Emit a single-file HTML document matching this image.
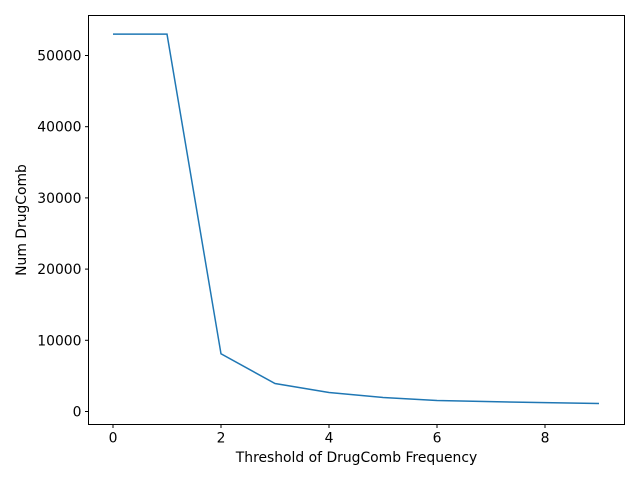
<!DOCTYPE html>
<html><head><meta charset="utf-8"><style>
body{margin:0;background:#fff;font-family:"Liberation Sans","DejaVu Sans",sans-serif;}
svg text{font-family:"DejaVu Sans","Liberation Sans",sans-serif;font-size:13.9px;fill:#000}
</style></head><body>
<svg id="chart" width="640" height="480"></svg>
<script>
const thresholds=[0,1,2,3,4,5,6,7,8,9];
const counts=[53000,53000,8100,3930,2670,1970,1540,1380,1250,1120];
const xTicks=[0,2,4,6,8];
const yTicks=[0,10000,20000,30000,40000,50000];
const L=88.5,R=624.5,T=15.5,B=424.5;
const xs=v=>113+(v)*54;
const ys=v=>411.5-v*0.00712;
const svg=document.getElementById('chart');
const NS='http://www.w3.org/2000/svg';
function mk(tag,attrs){const e=document.createElementNS(NS,tag);for(const k in attrs)e.setAttribute(k,attrs[k]);svg.appendChild(e);return e;}
const frame=mk('rect',{x:L,y:T,width:R-L,height:B-T,fill:'none',stroke:'#000','stroke-width':1});


xTicks.forEach(t=>{
 const x=xs(t);
 const l=mk('line',{x1:x,x2:x,y1:B,y2:B+3.5,stroke:'#000'});
 
 
 const tx=mk('text',{x:x,y:B+18,'text-anchor':'middle'});tx.textContent=t;
 
 
});
yTicks.forEach(t=>{
 const y=ys(t);
 const l=mk('line',{x1:L,x2:L-3.5,y1:y,y2:y,stroke:'#000'});
 
 
 const tx=mk('text',{x:L-7,y:y+5,'text-anchor':'end'});tx.textContent=t;
 
 
});
const pts=thresholds.map((t,i)=>xs(t)+','+ys(counts[i])).join(' ');
const pl=mk('polyline',{points:pts,fill:'none',stroke:'#1f77b4','stroke-width':1.5});


const xl=mk('text',{x:(L+R)/2,y:462,'text-anchor':'middle'});xl.textContent='Threshold of DrugComb Frequency';


const yl=mk('text',{x:26,y:(T+B)/2,'text-anchor':'middle',transform:'rotate(-90 26 '+(T+B)/2+')'});yl.textContent='Num DrugComb';


</script>
</body></html>
